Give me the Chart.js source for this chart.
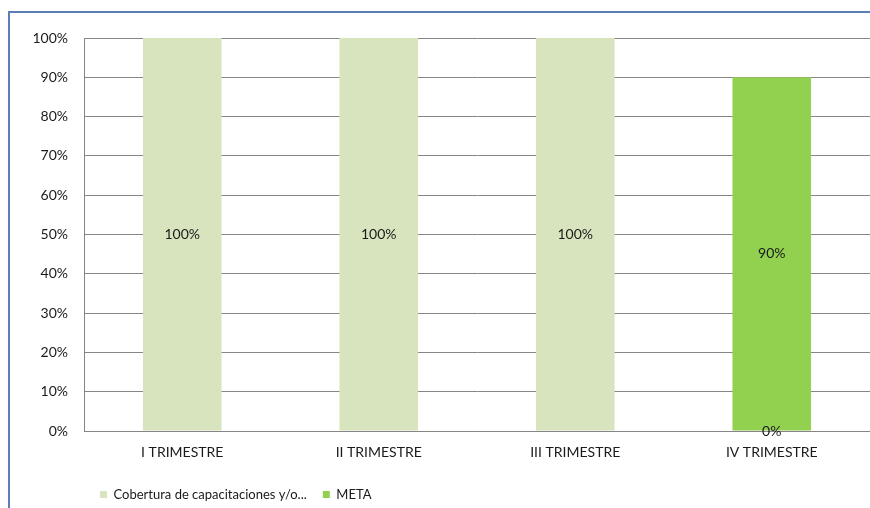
<!DOCTYPE html>
<html>
<head>
<meta charset="utf-8">
<script src="https://cdn.jsdelivr.net/npm/chart.js@4/dist/chart.umd.min.js"></script>
<style>
  html, body { margin: 0; padding: 0; background: #fff; }
  #wrap { position: relative; width: 870px; height: 508px; overflow: hidden; }
  #frame { position: absolute; left: 8px; top: 11px; width: 900px; height: 600px;
           border-top: 2px solid #5b7fb4; border-left: 2px solid #5b7fb4; box-sizing: border-box; }
  canvas { position: absolute; left: 0; top: 0; }
</style>
</head>
<body>
<div id="wrap">
  <div id="frame"></div>
  <canvas id="chart" width="870" height="508"></canvas>
</div>
<script>
const labels = ["I TRIMESTRE", "II TRIMESTRE", "III TRIMESTRE", "IV TRIMESTRE"];
const cobertura = [100, 100, 100, 0];
const meta = [null, null, null, 90];
const seriesNames = ["Cobertura de capacitaciones y/o...", "META"];

const FONT = "Lato, 'Open Sans', sans-serif";

// etiquetas de valor en el centro de cada barra
const barLabels = {
  id: "barLabels",
  afterDatasetsDraw(chart) {
    const ctx = chart.ctx;
    ctx.save();
    ctx.font = "14px " + FONT;
    ctx.fillStyle = "#1a1a1a";
    ctx.textAlign = "center";
    ctx.textBaseline = "middle";
    chart.data.datasets.forEach((ds, i) => {
      chart.getDatasetMeta(i).data.forEach((bar, j) => {
        const v = ds.data[j];
        if (v === null || v === undefined) return;
        ctx.fillText(v + "%", bar.x, (bar.y + bar.base) / 2);
      });
    });
    ctx.restore();
  }
};

new Chart(document.getElementById("chart").getContext("2d"), {
  type: "bar",
  data: {
    labels: labels,
    datasets: [
      {label: seriesNames[0], data: cobertura, backgroundColor: "#d7e4bd", categoryPercentage: 1, barPercentage: 0.4},
      {label: seriesNames[1], data: meta, backgroundColor: "#92d050", categoryPercentage: 1, barPercentage: 0.4}
    ]
  },
  options: {
    responsive: false,
    animation: false,
    layout: { padding: { top: 38, left: 0, right: 0, bottom: -3 } },
    plugins: {
      tooltip: { enabled: false },
      legend: {
        position: "bottom",
        align: "start",
        fullSize: false,
        labels: {
          boxWidth: 7, boxHeight: 7, padding: 16,
          color: "#1a1a1a",
          font: { family: FONT, size: 13 }
        }
      }
    },
    scales: {
      x: {
        stacked: true,
        grid: { display: false, drawTicks: false },
        border: { color: "#868686", width: 1 },
        ticks: { color: "#1a1a1a", padding: 13, font: { family: FONT, size: 14 } },
        afterFit(scale) { scale.height = 41; }
      },
      y: {
        stacked: true,
        min: 0, max: 100,
        grid: { color: "#868686", lineWidth: 1, drawTicks: false },
        border: { color: "#868686", width: 1 },
        ticks: { stepSize: 10, color: "#1a1a1a", padding: 16, font: { family: FONT, size: 14 },
                 callback: v => v + "%" },
        afterFit(scale) { scale.width = 84; }
      }
    }
  },
  plugins: [barLabels]
});
</script>
</body>
</html>
